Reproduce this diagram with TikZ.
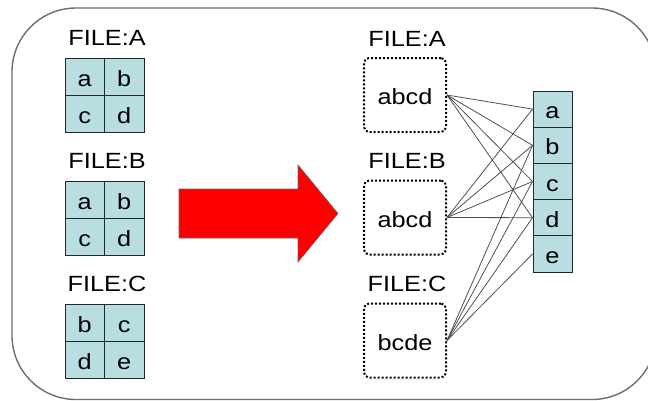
\documentclass[tikz,border=0pt]{standalone}
\usepackage{fontspec}
\setmainfont{Liberation Sans}[FakeStretch=1.15]
\definecolor{cellfill}{RGB}{185,222,225}
\definecolor{framegray}{RGB}{110,110,110}
\definecolor{linkgray}{RGB}{80,80,80}
\definecolor{arrowred}{RGB}{255,0,0}
\tikzset{
  txt/.style={font=\fontsize{22}{22}\selectfont, text=black},
  boxtxt/.style={txt, text height=19pt, text depth=0pt},
  cell/.style={boxtxt, draw=black!85, fill=cellfill, line width=0.9pt,
    inner sep=0pt, minimum width=39.5pt, minimum height=37pt},
  colcell/.style={cell, minimum width=39pt, minimum height=36.2pt},
  dotbox/.style={boxtxt, draw=black, line width=2pt, dash pattern=on 2pt off 2pt,
    rounded corners=5pt, inner sep=0pt, minimum width=82pt, minimum height=74pt},
  filelabel/.style={txt, anchor=base, inner sep=0pt},
  link/.style={draw=linkgray, line width=0.8pt},
  frame/.style={draw=framegray, line width=1.4pt, rounded corners=64pt},
  bigarrow/.style={fill=arrowred, draw=black!60, line width=0.6pt}
}
\begin{document}
\begin{tikzpicture}[x=1pt,y=-1pt]
\useasboundingbox (0,0) rectangle (648,400);

% outer rounded frame, running past the right and bottom edges
\begin{scope}
  \clip (0,0) rectangle (648,400);
  \draw[frame] (12,8) rectangle (656,399.5);
\end{scope}

% ---- left: three files, each a 2x2 grid ----
\node[filelabel] (lA) at (107,45) {FILE:A};
\node[cell] (a11) at (84.75,76.5)  {a};
\node[cell] (a12) at (124.25,76.5) {b};
\node[cell] (a21) at (84.75,113.5) {c};
\node[cell] (a22) at (124.25,113.5) {d};

\node[filelabel] (lB) at (107,168) {FILE:B};
\node[cell] (b11) at (84.75,199.5)  {a};
\node[cell] (b12) at (124.25,199.5) {b};
\node[cell] (b21) at (84.75,236.5)  {c};
\node[cell] (b22) at (124.25,236.5) {d};

\node[filelabel] (lC) at (107,291.5) {FILE:C};
\node[cell] (c11) at (84.75,322.5)  {b};
\node[cell] (c12) at (124.25,322.5) {c};
\node[cell] (c21) at (84.75,359.5)  {d};
\node[cell] (c22) at (124.25,359.5) {e};

% ---- big red arrow ----
\draw[bigarrow] (179,189) -- (298,189) -- (298,165) -- (338,213.5)
  -- (298,262) -- (298,238) -- (179,238) -- cycle;

% ---- right: files as dotted boxes ----
\node[filelabel] (rA) at (407,46) {FILE:A};
\node[dotbox] (fA) at (405,95) {abcd};
\node[filelabel] (rB) at (407,168) {FILE:B};
\node[dotbox] (fB) at (405,217.5) {abcd};
\node[filelabel] (rC) at (407,291) {FILE:C};
\node[dotbox] (fC) at (405,340.5) {bcde};

% ---- column of distinct values ----
\node[colcell] (va) at (552.5,109.1) {a};
\node[colcell] (vb) at (552.5,145.3) {b};
\node[colcell] (vc) at (552.5,181.5) {c};
\node[colcell] (vd) at (552.5,217.7) {d};
\node[colcell] (ve) at (552.5,253.9) {e};

% ---- links from each file to the values it holds ----
\foreach \v in {va,vb,vc,vd} \draw[link] (fA.east) -- (\v.west);
\foreach \v in {va,vb,vc,vd} \draw[link] (fB.east) -- (\v.west);
\foreach \v in {vb,vc,vd,ve} \draw[link] (fC.east) -- (\v.west);
\end{tikzpicture}
\end{document}
